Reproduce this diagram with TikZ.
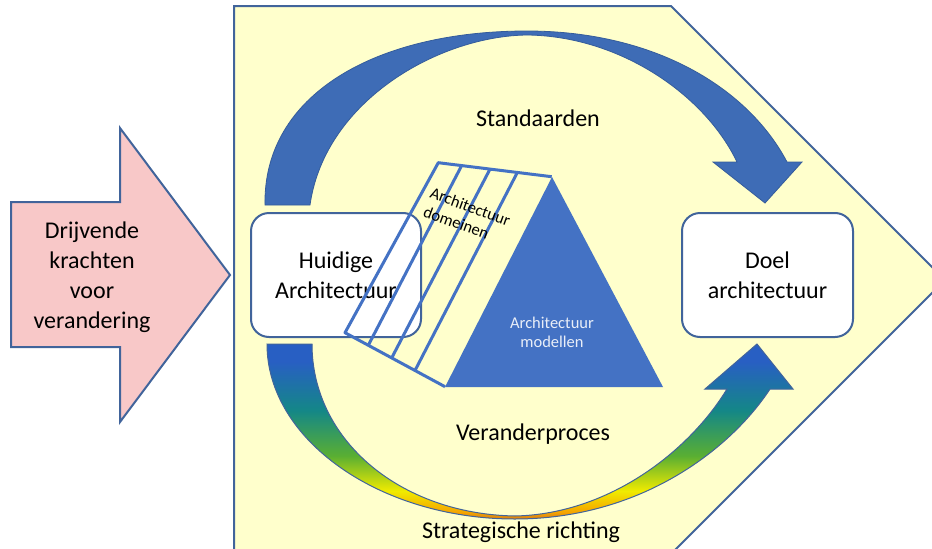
\documentclass[tikz,border=0pt]{standalone}
\usepackage{fontspec}
\setmainfont{Carlito}
\usetikzlibrary{calc}
\definecolor{bgyellow}{RGB}{255,255,204}
\definecolor{edgeblue}{RGB}{65,100,155}
\definecolor{midblue}{RGB}{68,114,196}
\definecolor{arrowblue}{RGB}{62,108,182}
\definecolor{pinkfill}{RGB}{248,200,200}
\definecolor{gblue}{RGB}{40,95,195}
\definecolor{gteal}{RGB}{20,135,135}
\definecolor{ggreen}{RGB}{90,175,50}
\definecolor{gyellow}{RGB}{240,235,0}
\definecolor{gorange}{RGB}{245,165,0}
\definecolor{gdark}{RGB}{215,125,20}
\pgfdeclareverticalshading{changegrad}{100bp}{color(0bp)=(gdark); color(25bp)=(gdark); color(27bp)=(gorange); color(33bp)=(gyellow); color(43bp)=(ggreen); color(56bp)=(gteal); color(70bp)=(gblue); color(100bp)=(gblue)}
\tikzset{
  archbox/.style={draw=edgeblue, fill=white, rounded corners=18, line width=2,
    minimum width=170, minimum height=124, align=center, inner sep=0,
    font=\fontsize{24}{30}\selectfont},
  biglbl/.style={font=\fontsize{24}{30}\selectfont, inner sep=0},
  slabline/.style={draw=midblue, line width=3},
  outline/.style={draw=edgeblue, line width=2}
}
\begin{document}
\begin{tikzpicture}[x=1pt, y=-1pt]
\useasboundingbox (0,0) rectangle (932,549);
\clip (0,0) rectangle (932,549);
% background pentagon
\path[outline, fill=bgyellow] (234,6) -- (671,6) -- (945,280) -- (670,555) -- (234,555) -- cycle;
% pink arrow
\path[outline, fill=pinkfill] (11,202) -- (120,202) -- (120,128) -- (230,275) -- (120,422) -- (120,347) -- (11,347) -- cycle;
\node[biglbl, align=center] (drive) at (92,277) {Drijvende\\krachten\\voor\\verandering};
% top curved arrow
\path[fill=arrowblue, draw=arrowblue!85!black, line width=0.8]
 (265,205) .. controls (263,95) and (375,31) .. (527,31)
 .. controls (655,31) and (748,88) .. (787,162)
 -- (802,162) -- (765,203) -- (713,162) -- (737,162)
 .. controls (705,95) and (620,36) .. (527,35)
 .. controls (440,36) and (325,100) .. (310,205) -- cycle;
% bottom curved arrow (gradient)
\shadedraw[shading=changegrad, draw=edgeblue, line width=1]
 (267,344) .. controls (267,440) and (380,519) .. (515,519)
 .. controls (640,519) and (730,450) .. (770,389)
 -- (793,389) -- (757,344) -- (705,389) -- (727,389)
 .. controls (690,450) and (610,514) .. (515,516)
 .. controls (400,514) and (312,440) .. (312,344) -- cycle;
% triangle
\fill[midblue] (552,177) -- (663,387) -- (445,387) -- cycle;
\node[text=white!88!midblue, font=\fontsize{16.5}{19}\selectfont, align=center, inner sep=0] (models) at (552,332) {Architectuur\\modellen};
% boxes
\node[archbox] (cur) at (336,275) {Huidige\\Architectuur};
\node[archbox, minimum width=171] (goal) at (767.5,275) {Doel\\architectuur};
% slab of domains
\coordinate (tl) at (438.3,162.7);
\coordinate (tr) at (551.7,176.7);
\coordinate (bl) at (345,332.7);
\coordinate (br) at (445,386.7);
\draw[slabline, line join=round] (tr) -- (tl) -- (bl) -- (br);
\draw[slabline] ($(tl)!0.206!(tr)$) -- ($(bl)!0.233!(br)$);
\draw[slabline] ($(tl)!0.456!(tr)$) -- ($(bl)!0.467!(br)$);
\draw[slabline] ($(tl)!0.697!(tr)$) -- ($(bl)!0.70!(br)$);
\node[font=\fontsize{16.5}{20}\selectfont, align=left, rotate=-20, inner sep=0] (dom) at (467,216) {Architectuur\\domeinen};
% labels
\node[biglbl, anchor=base] (std) at (538,126) {Standaarden};
\node[biglbl, anchor=base] (chg) at (533,440) {Veranderproces};
\node[biglbl, anchor=base] (strat) at (521,538) {Strategische richting};
\end{tikzpicture}
\end{document}
